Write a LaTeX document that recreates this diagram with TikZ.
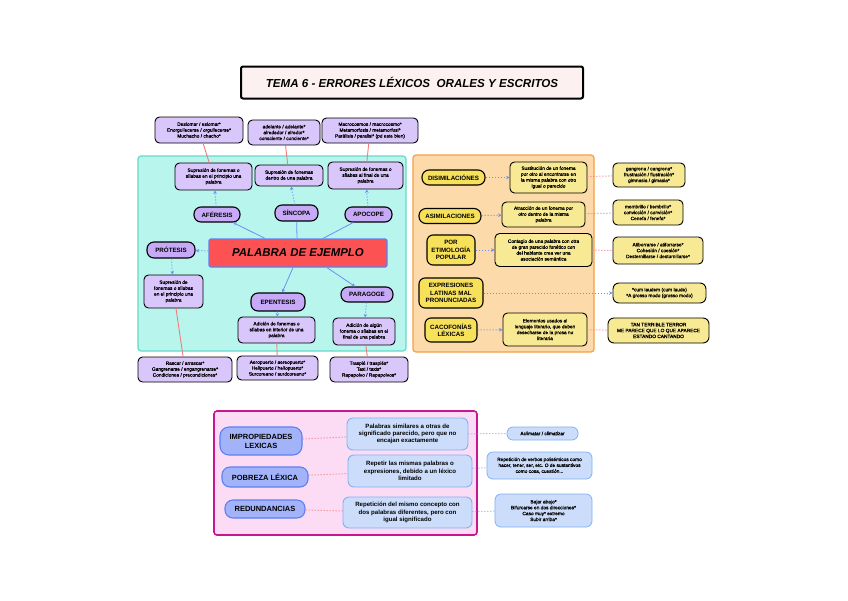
\documentclass[tikz,border=0pt]{standalone}
\usepackage{fontspec}
\setmainfont{Liberation Sans}
\usetikzlibrary{arrows.meta}
\definecolor{cyanbg}{HTML}{B8F5EC}
\definecolor{cyanbd}{HTML}{66D9C9}
\definecolor{orangebg}{HTML}{FDDAA9}
\definecolor{orangebd}{HTML}{F5A045}
\definecolor{pinkbg}{HTML}{FCDCF4}
\definecolor{pinkbd}{HTML}{C8168E}
\definecolor{lavpill}{HTML}{C6A9F7}
\definecolor{lavdef}{HTML}{D9C7FB}
\definecolor{yelpill}{HTML}{F7E05A}
\definecolor{yeldef}{HTML}{F8EA94}
\definecolor{bluepill}{HTML}{A3B3FA}
\definecolor{bluebd}{HTML}{5F7FF2}
\definecolor{bluedef}{HTML}{CCDDFB}
\definecolor{bluedefbd}{HTML}{7FB2F2}
\definecolor{centralred}{HTML}{FC5254}
\definecolor{titlebg}{HTML}{FDF0F0}
\definecolor{arrblue}{HTML}{6F8FF5}
\definecolor{linered}{HTML}{F07C7C}
\newfontfamily\smallface[FakeBold=0.9]{Liberation Sans}
\newcommand{\tinyfont}{\fontsize{4.8}{5.9}\selectfont\smallface}
\newcommand{\pillfont}{\fontsize{6.2}{7.3}\selectfont\bfseries}
\newcommand{\pinkdeffont}{\fontsize{6.1}{7.4}\selectfont\bfseries}
\tikzset{
  area/.style={rounded corners=3pt, line width=1.2pt},
  lavbox/.style={draw=black, line width=0.9pt, rounded corners=4.5pt, fill=lavdef, align=center, inner sep=0.5pt, font=\tinyfont},
  lavpillbox/.style={draw=black, line width=1.1pt, rounded corners=7pt, fill=lavpill, align=center, inner sep=0.5pt, font=\pillfont},
  yelbox/.style={draw=black, line width=0.9pt, rounded corners=4.5pt, fill=yeldef, align=center, inner sep=0.5pt, font=\tinyfont},
  yelpillbox/.style={draw=black, line width=1.1pt, rounded corners=7pt, fill=yelpill, align=center, inner sep=0.5pt, font=\pillfont},
  bpill/.style={draw=bluebd, line width=1.1pt, rounded corners=8pt, fill=bluepill, align=center, inner sep=0.5pt, font=\fontsize{7.5}{9}\selectfont\bfseries},
  bdef/.style={draw=bluedefbd, line width=0.9pt, rounded corners=6pt, fill=bluedef, align=center, inner sep=0.5pt, font=\pinkdeffont},
  bsmall/.style={draw=bluedefbd, line width=0.8pt, rounded corners=6pt, fill=bluedef, align=center, inner sep=0.5pt, font=\tinyfont},
  barrow/.style={draw=arrblue, line width=0.8pt, -{Stealth[length=3.5pt,width=3.5pt]}},
  bdot/.style={draw=arrblue, line width=1pt, dotted, -{Stealth[length=3.5pt,width=3.5pt]}},
  bdotline/.style={draw=arrblue!80, line width=1pt, dotted},
  redline/.style={draw=linered, line width=0.9pt},
  reddot/.style={draw=linered, line width=1pt, dotted},
}
\begin{document}
\begin{tikzpicture}[x=1pt,y=-1pt]
\useasboundingbox[fill=white] (0,0) rectangle (848,600);

% title
\node[draw=black, line width=2pt, rounded corners=2pt, fill=titlebg, minimum width=342pt, minimum height=32pt, font=\fontsize{11.6}{13}\selectfont\bfseries\itshape] (title) at (412,82.5) {TEMA 6 - ERRORES LÉXICOS\ \ ORALES Y ESCRITOS};

% areas
\draw[area, draw=cyanbd, fill=cyanbg] (138,156) rectangle (406,351);
\draw[area, draw=orangebd, fill=orangebg] (413,155) rectangle (594,352);
\draw[area, draw=pinkbd, fill=pinkbg, line width=1.6pt] (214,411) rectangle (477,535);

% ===== cyan part =====
\node[draw=bluebd, line width=1.2pt, rounded corners=2pt, fill=centralred, minimum width=178pt, minimum height=28pt, font=\fontsize{11.4}{13}\selectfont\bfseries\itshape] (central) at (298,253) {PALABRA DE EJEMPLO};

\node[lavpillbox, minimum width=46pt, minimum height=15pt] (afe) at (217,214.5) {AFÉRESIS};
\node[lavpillbox, minimum width=43pt, minimum height=16pt] (sin) at (296.5,213) {SÍNCOPA};
\node[lavpillbox, minimum width=47pt, minimum height=15pt] (apo) at (368.5,214.5) {APOCOPE};
\node[lavpillbox, minimum width=48pt, minimum height=16pt] (pro) at (171,250) {PRÓTESIS};
\node[lavpillbox, minimum width=54pt, minimum height=18pt] (epe) at (278,302) {EPENTESIS};
\node[lavpillbox, minimum width=52pt, minimum height=15pt] (par) at (367,294.5) {PARAGOGE};

\node[lavbox, minimum width=77pt, minimum height=27pt] (afedef) at (213.5,176.5) {Supresión de fonemas o\\sílabas en el principio una\\palabra};
\node[lavbox, minimum width=68pt, minimum height=21pt] (sindef) at (289,175.5) {Supresión de fonemas\\dentro de una palabra};
\node[lavbox, minimum width=75pt, minimum height=27pt] (apodef) at (365.5,175.5) {Supresión de fonemas o\\sílabas al final de una\\palabra};
\node[lavbox, minimum width=59pt, minimum height=33pt] (prodef) at (173.5,291.5) {Supresión de\\fonemas o sílabas\\en el principio una\\palabra};
\node[lavbox, minimum width=77pt, minimum height=26pt] (epedef) at (276.5,330) {Adición de fonemas o\\sílabas en interior de una\\palabra};
\node[lavbox, minimum width=62pt, minimum height=27pt] (pardef) at (364,331.5) {Adición de algún\\fonema o sílabas en el\\final de una palabra};

\node[lavbox, minimum width=88pt, minimum height=26pt] (afeex) at (199,130) {Deslomar / eslomar*\\Enorgullecerse / orgullecerse*\\Muchacho / chacho*};
\node[lavbox, minimum width=72pt, minimum height=25pt] (sinex) at (284,132.5) {adelante / adelante*\\alrededor / alredor*\\consciente / conciente*};
\node[lavbox, minimum width=96pt, minimum height=25pt] (apoex) at (370,130.5) {Macrocosmos / macrocosmo*\\Metamorfosis / metamorfosi*\\Parálisis / paralisi* (pd este bien)};
\node[lavbox, minimum width=94pt, minimum height=25pt] (proex) at (185,369.5) {Rascar / arrascar*\\Gangrenarse / engangrenarse*\\Condiciones / precondiciones*};
\node[lavbox, minimum width=81pt, minimum height=24pt] (epeex) at (277.5,368) {Aeropuerto / aereopuerto*\\Helipuerto / heliopuerto*\\Surcoreano / surdcoreano*};
\node[lavbox, minimum width=78pt, minimum height=25pt] (parex) at (369,369.5) {Traspié / traspiés*\\Taxi / taxis*\\Rapapolvo / Rapapolvos*};

% connectors cyan
\draw[barrow] ([xshift=-33pt]central.north) -- (afe);
\draw[draw=arrblue, line width=0.8pt] ([xshift=-1pt]central.north) -- (sin);
\draw[draw=arrblue, line width=0.8pt] ([xshift=25pt]central.north) -- (apo);
\draw[bdot] (central) -- (pro);
\draw[barrow] ([xshift=-5pt]central.south) -- (epe);
\draw[barrow] ([xshift=29pt]central.south) -- (par);

\draw[bdot] (afe) -- (afedef);
\draw[bdot] (sin) -- (sindef);
\draw[bdot] (apo) -- (apodef);
\draw[bdot] (pro) -- (prodef);
\draw[bdot] (epe) -- (epedef);
\draw[bdot] (par) -- (pardef);

\draw[redline] (afedef) -- (afeex);
\draw[redline] (sindef) -- (sinex);
\draw[redline] (apodef) -- (apoex);
\draw[redline] (prodef) -- (proex);
\draw[redline] (epedef) -- (epeex);
\draw[redline] (pardef) -- (parex);

% ===== orange part =====
\node[yelpillbox, minimum width=63pt, minimum height=15pt] (dis) at (453.5,177.5) {DISIMILACIÓNES};
\node[yelpillbox, minimum width=62pt, minimum height=15pt] (asi) at (450,216) {ASIMILACIONES};
\node[yelpillbox, minimum width=48pt, minimum height=30pt, rounded corners=6pt] (eti) at (451,250) {POR\\ETIMOLOGÍA\\POPULAR};
\node[yelpillbox, minimum width=64pt, minimum height=30pt, rounded corners=6pt] (exp) at (451,293) {EXPRESIONES\\LATINAS MAL\\PRONUNCIADAS};
\node[yelpillbox, minimum width=52pt, minimum height=24pt, rounded corners=6pt] (cac) at (451,330) {CACOFONÍAS\\LÉXICAS};

\node[yelbox, minimum width=77pt, minimum height=31pt] (disdef) at (548.5,177.5) {Sustitución de un fonema\\por otro al encontrarse en\\la misma palabra con otro\\igual o parecido};
\node[yelbox, minimum width=83pt, minimum height=25pt] (asidef) at (543.5,214.5) {Atracción de un fonema por\\otro dentro de la misma\\palabra};
\node[yelbox, minimum width=97pt, minimum height=33pt] (etidef) at (543.5,250) {Contagio de una palabra con otra\\de gran parecido fonético con\\del hablante crea ver una\\asociación semántica};
\node[yelbox, minimum width=84pt, minimum height=33pt] (cacdef) at (545,329.5) {Elementos usados al\\lenguaje literario, que deben\\desecharse de la prosa no\\literaria};

\node[yelbox, minimum width=72pt, minimum height=24pt] (disex) at (649,175) {gangrena / cangrena*\\frustración / flustración*\\gimnasia / gimasia*};
\node[yelbox, minimum width=70pt, minimum height=25pt] (asiex) at (648,212.5) {membrillo / bembrillo*\\convicción / convición*\\Cenefa / fenefa*};
\node[yelbox, minimum width=90pt, minimum height=27pt] (etiex) at (658,250.5) {Atiborrarse / atiforrarse*\\Cohesión / coesión*\\Desternillarse / destornillarse*};
\node[yelbox, minimum width=93pt, minimum height=20pt, rounded corners=6pt] (expex) at (659.5,293) {*cum laudem (cum laude)\\*A grosso modo (grosso modo)};
\node[yelbox, minimum width=101pt, minimum height=25pt, rounded corners=6pt] (cacex) at (658.5,330.5) {TAN TERRIBLE TERROR\\ME PARECE QUE LO QUE APARECE\\ESTANDO CANTANDO};

\draw[bdot] (dis) -- (disdef);
\draw[bdot] (asi) -- (asidef);
\draw[bdot] (eti) -- (etidef);
\draw[bdot] (exp) -- (expex);
\draw[bdot] (cac) -- (cacdef);

\draw[reddot] (disdef) -- (disex);
\draw[reddot] (asidef) -- (asiex);
\draw[reddot] (etidef) -- (etiex);
\draw[reddot] (cacdef) -- (cacex);

% ===== pink part =====
\node[bpill, minimum width=82pt, minimum height=28pt, rounded corners=9pt] (imp) at (261,441) {IMPROPIEDADES\\LEXICAS};
\node[bpill, minimum width=86pt, minimum height=20pt] (pob) at (265,477) {POBREZA LÉXICA};
\node[bpill, minimum width=80pt, minimum height=18pt] (red) at (265,509) {REDUNDANCIAS};

\node[bdef, minimum width=121pt, minimum height=32pt] (impdef) at (407.5,434) {Palabras similares a otras de\\significado parecido, pero que no\\encajan exactamente};
\node[bdef, minimum width=124pt, minimum height=32pt] (pobdef) at (410,471) {Repetir las mismas palabras o\\expresiones, debido a un léxico\\limitado};
\node[bdef, minimum width=129pt, minimum height=31pt] (reddef) at (407.5,512.5) {Repetición del mismo concepto con\\dos palabras diferentes, pero con\\igual significado};

\node[bsmall, minimum width=71pt, minimum height=13pt] (impex) at (542.5,433.5) {Aclimatar / climatizar};
\node[bsmall, minimum width=105pt, minimum height=27pt] (pobex) at (539.5,465.5) {Repetición de verbos polisémicos como\\hacer, tener, ser, etc. O de sustantivos\\como cosa, cuestión...};
\node[bsmall, minimum width=97pt, minimum height=33pt] (redex) at (543.5,510.5) {Bajar abajo*\\Bifurcarse en dos direcciones*\\Caso muy* extremo\\Subir arriba*};

\draw[reddot] (imp) -- (impdef);
\draw[reddot] (pob) -- (pobdef);
\draw[reddot] (red) -- (reddef);
\draw[bdotline] (impdef) -- (impex);
\draw[bdotline] (pobdef) -- (pobex);
\draw[bdotline] (reddef) -- (redex);
\end{tikzpicture}
\end{document}
